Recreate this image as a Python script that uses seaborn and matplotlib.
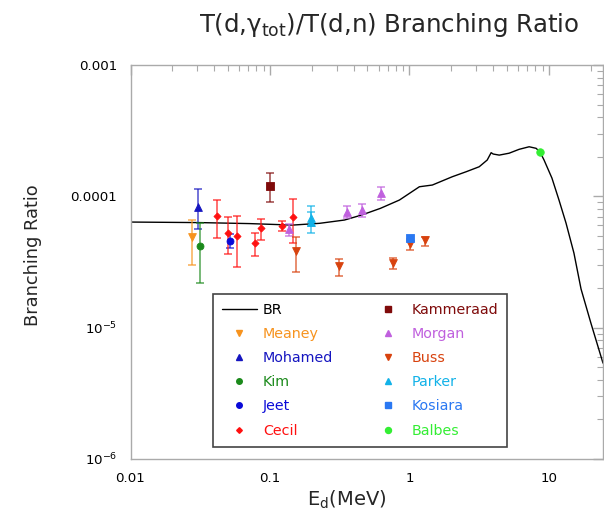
import numpy as np
import pandas as pd
import matplotlib
matplotlib.use("Agg")
import matplotlib.pyplot as plt
from matplotlib.lines import Line2D
from matplotlib.ticker import LogLocator, FixedLocator, NullFormatter
import seaborn as sns

# ---- Data ----
# BR curve
br_energy = [0.01, 0.0314, 0.0716, 0.145, 0.2267, 0.342, 0.453, 0.619, 0.847, 1.178,
             1.458, 2.027, 2.553, 3.162, 3.608, 3.85, 3.98, 4.40, 5.18, 6.11, 7.21,
             8.09, 8.63, 9.22, 10.5, 11.8, 13.25, 15.1, 16.98, 20.0, 24.4]
br_value = [6.37e-5, 6.31e-5, 6.20e-5, 6.04e-5, 6.23e-5, 6.60e-5, 7.20e-5, 8.10e-5, 9.37e-5, 1.183e-4,
            1.219e-4, 1.41e-4, 1.54e-4, 1.68e-4, 1.89e-4, 2.15e-4, 2.10e-4, 2.06e-4, 2.13e-4, 2.28e-4, 2.385e-4,
            2.32e-4, 2.175e-4, 1.89e-4, 1.378e-4, 9.37e-5, 6.26e-5, 3.70e-5, 1.97e-5, 1.08e-5, 5.37e-6]

meaney_E = [0.0277];  meaney_BR = [4.87e-5];  meaney_hi = [6.60e-5];  meaney_lo = [3.00e-5]
mohamed_E = [0.0303]; mohamed_BR = [8.33e-5]; mohamed_hi = [1.131e-4]; mohamed_lo = [5.61e-5]
kim_E = [0.0313];     kim_BR = [4.18e-5];     kim_hi = [6.26e-5];     kim_lo = [2.20e-5]
jeet_E = [0.0521];    jeet_BR = [4.59e-5];    jeet_hi = [5.16e-5];    jeet_lo = [4.02e-5]
cecil_E = [0.0414, 0.0496, 0.0578, 0.0778, 0.0862, 0.122, 0.146]
cecil_BR = [7.11e-5, 5.28e-5, 4.98e-5, 4.39e-5, 5.71e-5, 5.94e-5, 6.99e-5]
cecil_hi = [9.37e-5, 6.99e-5, 7.08e-5, 5.28e-5, 6.75e-5, 6.48e-5, 9.59e-5]
cecil_lo = [4.79e-5, 3.62e-5, 2.91e-5, 3.51e-5, 4.62e-5, 5.44e-5, 4.43e-5]
kamm_E = [0.0995];    kamm_BR = [1.204e-4];   kamm_hi = [1.497e-4];   kamm_lo = [9.0e-5]
morgan_E = [0.137, 0.358, 0.453, 0.622]
morgan_BR = [5.61e-5, 7.63e-5, 7.86e-5, 1.065e-4]
morgan_hi = [6.15e-5, 8.48e-5, 8.69e-5, 1.183e-4]
morgan_lo = [4.98e-5, 6.80e-5, 6.99e-5, 9.37e-5]
buss_E = [0.1527, 0.3116, 0.767, 1.01, 1.284]
buss_BR = [3.85e-5, 2.94e-5, 3.12e-5, 4.33e-5, 4.65e-5]
buss_hi = [4.87e-5, 3.31e-5, 3.41e-5, 4.75e-5, 4.92e-5]
buss_lo = [2.66e-5, 2.47e-5, 2.78e-5, 3.90e-5, 4.18e-5]
parker_E = [0.1955, 0.1955]
parker_BR = [6.78e-5, 6.37e-5]
parker_hi = [8.48e-5, 7.63e-5]
parker_lo = [5.94e-5, 5.28e-5]
kosiara_E = [1.015];  kosiara_BR = [4.79e-5]
balbes_E = [8.63];    balbes_BR = [2.175e-4]

# ---- Style ----
sns.set_style("white")
plt.rcParams['font.family'] = ['DejaVu Sans']
plt.rcParams['mathtext.default'] = 'regular'

fig = plt.figure(figsize=(6.04, 5.23), dpi=100)
ax = fig.add_axes([130.5 / 604, 1 - 459 / 523, (603 - 130.5) / 604, (459 - 65) / 523])

series = [
    ("Meaney", meaney_E, meaney_BR, meaney_hi, meaney_lo, "v", "#f7931e", 5.6),
    ("Mohamed", mohamed_E, mohamed_BR, mohamed_hi, mohamed_lo, "^", "#1515c0", 5.6),
    ("Kim", kim_E, kim_BR, kim_hi, kim_lo, "o", "#1b8a1b", 5.0),
    ("Jeet", jeet_E, jeet_BR, jeet_hi, jeet_lo, "o", "#0a0ad8", 5.0),
    ("Cecil", cecil_E, cecil_BR, cecil_hi, cecil_lo, "D", "#ff1010", 3.6),
    ("Kammeraad", kamm_E, kamm_BR, kamm_hi, kamm_lo, "s", "#7f0a0a", 5.2),
    ("Morgan", morgan_E, morgan_BR, morgan_hi, morgan_lo, "^", "#c060de", 5.6),
    ("Buss", buss_E, buss_BR, buss_hi, buss_lo, "v", "#d8420e", 5.6),
    ("Parker", parker_E, parker_BR, parker_hi, parker_lo, "^", "#12b2e8", 5.6),
    ("Kosiara", kosiara_E, kosiara_BR, None, None, "s", "#2a78f2", 5.2),
    ("Balbes", balbes_E, balbes_BR, None, None, "o", "#33ee33", 5.4),
]

# curve
curve_df = pd.DataFrame({"E": br_energy, "BR": br_value})
sns.lineplot(data=curve_df, x="E", y="BR", ax=ax, color="black", linewidth=1.0,
             sort=False, estimator=None, zorder=2)

for name, E, B, hi, lo, mk, col, ms in series:
    if hi is not None:
        yerr = [np.array(B) - np.array(lo), np.array(hi) - np.array(B)]
        ax.errorbar(E, B, yerr=yerr, fmt="none", ecolor=col, alpha=0.6,
                    elinewidth=1.4, capsize=2.6, capthick=1.4, zorder=3)
    df = pd.DataFrame({"E": E, "BR": B})
    sns.scatterplot(data=df, x="E", y="BR", ax=ax, marker=mk, color=col,
                    s=ms ** 2, edgecolor=col, linewidth=0.6, zorder=4, legend=False)

ax.set_xscale("log")
ax.set_yscale("log")
ax.set_xlim(0.01, 24.4)
ax.set_ylim(1e-6, 1e-3)

ax.xaxis.set_major_locator(FixedLocator([0.01, 0.1, 1, 10]))
ax.set_xticklabels(["0.01", "0.1", "1", "10"])
ax.yaxis.set_major_locator(FixedLocator([1e-6, 1e-5, 1e-4, 1e-3]))
ax.set_yticklabels(["$10^{-6}$", "$10^{-5}$", "0.0001", "0.001"])
ax.xaxis.set_minor_locator(LogLocator(base=10, subs=np.arange(2, 10)))
ax.yaxis.set_minor_locator(LogLocator(base=10, subs=np.arange(2, 10)))
ax.xaxis.set_minor_formatter(NullFormatter())
ax.yaxis.set_minor_formatter(NullFormatter())

ax.tick_params(which="both", direction="in", top=True, right=True, color="#aaaaaa",
               labelsize=9.6, labelcolor="black")
ax.tick_params(which="major", length=7, width=1, pad=9.5)
ax.tick_params(which="minor", length=4, width=0.8)
for sp in ax.spines.values():
    sp.set_color("#aaaaaa")
    sp.set_linewidth(1)

ax.set_xlabel("E$_d$(MeV)", fontsize=14, va="top")
ax.set_ylabel("Branching Ratio", fontsize=12.8)
ax.xaxis.set_label_coords((347 - 130.5) / 472.5, (459 - 489) / 394)
ax.yaxis.set_label_coords((42 - 130.5) / 472.5, (459 - 255) / 394)

fig.text(389 / 604, 1 - 32 / 523, r"T(d,$\gamma_{\mathregular{tot}}$)/T(d,n) Branching Ratio",
         ha="center", va="baseline", fontsize=17.6)

# legend
handles = [Line2D([0], [0], color="black", lw=1.0)]
labels = ["BR"]
colors = ["black"]
for name, E, B, hi, lo, mk, col, ms in series:
    handles.append(Line2D([0], [0], marker=mk, color=col, linestyle="none",
                          markersize=ms * 0.8))
    labels.append(name)
    colors.append(col)

leg = ax.legend(handles, labels, ncol=2, loc="upper left",
                bbox_to_anchor=((213 - 130.5) / 472.5, (459 - 294) / 394),
                frameon=True, fancybox=False, framealpha=1, edgecolor="#444444",
                fontsize=10.3, labelspacing=0.71, handlelength=2.45, handletextpad=0.42,
                borderpad=0.62, columnspacing=2.6, borderaxespad=0)
leg.get_frame().set_linewidth(1.2)
for t, c in zip(leg.get_texts(), colors):
    t.set_color(c)

fig.savefig("out.png", dpi=100)
